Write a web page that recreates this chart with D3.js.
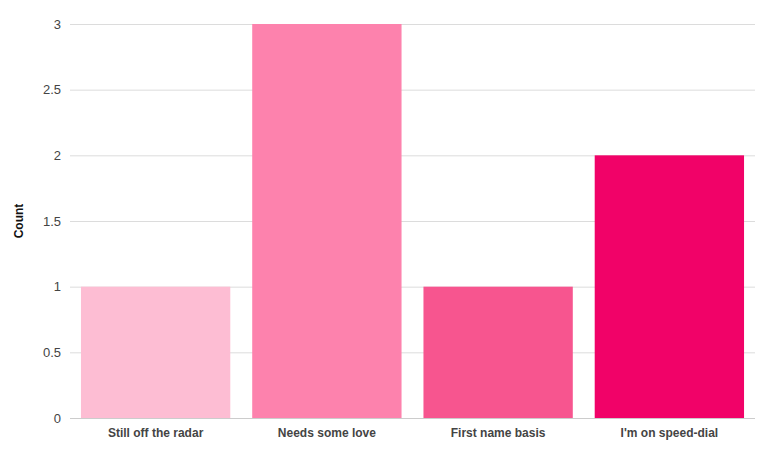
<!DOCTYPE html>
<html><head><meta charset="utf-8">
<script src="https://cdn.jsdelivr.net/npm/d3@7"></script>
<style>body{margin:0;background:#fff}svg{display:block}text{font-family:"Liberation Sans",Arial,sans-serif}</style>
</head><body>
<script>
const categories = ["Still off the radar","Needs some love","First name basis","I'm on speed-dial"];
const counts = [1,3,1,2];
const colors = ["#fdbdd3","#fd82ad","#f7558f","#f10268"];
const yTicks = [0,0.5,1,1.5,2,2.5,3];
const yTitle = "Count";

(function(){
const W=761,H=454;
const svg=d3.select("body").append("svg").attr("width",W).attr("height",H);
const mL=70,mR=755,mT=24,mB=418;
const x=d3.scaleBand().domain(categories).range([mL,mR]).paddingInner(0.128).paddingOuter(0.064);
const y=d3.scaleLinear().domain([0,3]).range([mB,mT]);

const yAxis=svg.append("g").attr("transform",`translate(${mL},0)`)
  .call(d3.axisLeft(y).tickValues(yTicks).tickSize(-(mR-mL)).tickPadding(9).tickFormat(d3.format("")));
yAxis.select(".domain").remove();
yAxis.selectAll("line").attr("stroke","#dcdcdc");
yAxis.selectAll("text").attr("fill","#444").style("font-size","13px");

svg.selectAll("rect.bar").data(categories).join("rect").attr("class","bar")
  .attr("x",d=>x(d)).attr("width",x.bandwidth())
  .attr("y",(d,i)=>y(counts[i])).attr("height",(d,i)=>y(0)-y(counts[i]))
  .attr("fill",(d,i)=>colors[i]);

svg.append("line").attr("x1",mL).attr("x2",mR).attr("y1",mB+0.5).attr("y2",mB+0.5).attr("stroke","#ccc");

const xAxis=svg.append("g").attr("transform",`translate(0,${mB})`)
  .call(d3.axisBottom(x).tickSize(0).tickPadding(10));
xAxis.select(".domain").remove();
xAxis.selectAll("text").attr("fill","#444").style("font-size","12px").style("font-weight","bold");

svg.append("text").attr("transform",`translate(23,${(mT+mB)/2}) rotate(-90)`)
  .attr("text-anchor","middle").style("font-size","12px").style("font-weight","bold").attr("fill","#111").text(yTitle);
})();
</script>
</body></html>
